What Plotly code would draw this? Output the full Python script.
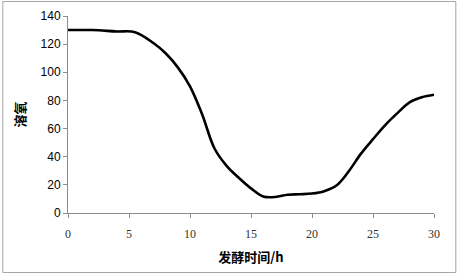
import plotly.graph_objects as go

hours = [0, 2, 4, 5.5, 7, 8, 9, 10, 11, 12, 13, 14, 15, 16, 17, 18, 19, 20, 21, 22, 23, 24, 25, 26, 27, 28, 29, 30]
do_values = [130, 130, 129, 128.5, 120.8, 113.5, 103.5, 90, 70, 46, 33.5, 25, 17.5, 11.8, 11.4, 13, 13.3, 13.8, 15.5, 19.5, 29.5, 42, 52.5, 62.5, 71, 78.6, 82.2, 84]
x_ticks = [0, 5, 10, 15, 20, 25, 30]
y_ticks = [0, 20, 40, 60, 80, 100, 120, 140]

W, H = 458, 275
L, R, T, B = 67.7, 24.3, 16, 62
pw, ph = W - L - R, H - T - B

def px(xp):
    return (xp - L) / pw

def py(yp):
    return (H - B - yp) / ph

fig = go.Figure()
fig.add_trace(go.Scatter(
    x=hours, y=do_values, mode="lines",
    line=dict(color="black", width=2.6, shape="spline", smoothing=1.0),
    showlegend=False, hoverinfo="skip"))

axis_common = dict(showgrid=False, zeroline=False, showline=True, linecolor="#8c8c8c",
                   linewidth=1, ticks="outside", ticklen=4, tickcolor="#8c8c8c",
                   automargin=False)

fig.update_layout(
    width=W, height=H,
    margin=dict(l=L, r=R, t=T, b=B, autoexpand=False),
    paper_bgcolor="white", plot_bgcolor="white",
    xaxis=dict(range=[0, 30], tickvals=x_ticks,
               tickfont=dict(family="Liberation Serif", size=12, color="#333333"),
               ticklabelstandoff=6,
               title=dict(text="<b>发酵时间/h</b>", font=dict(family="Noto Sans CJK SC", size=13, color="black"), standoff=12),
               **axis_common),
    yaxis=dict(range=[0, 140], tickvals=y_ticks,
               tickfont=dict(family="Liberation Sans", size=12, color="black"),
               title=dict(text="<b>溶氧</b>", font=dict(family="Noto Sans CJK SC", size=13, color="black"), standoff=12),
               **axis_common),
    shapes=[dict(type="rect", xref="paper", yref="paper",
                 x0=px(2.5), x1=px(455.5), y0=py(272.5), y1=py(1.5),
                 line=dict(color="#a6a6a6", width=1), fillcolor="rgba(0,0,0,0)", layer="below")],
)

fig.write_html("out.html", config={"displayModeBar": False},
               post_script="document.body.style.margin='0px';")
